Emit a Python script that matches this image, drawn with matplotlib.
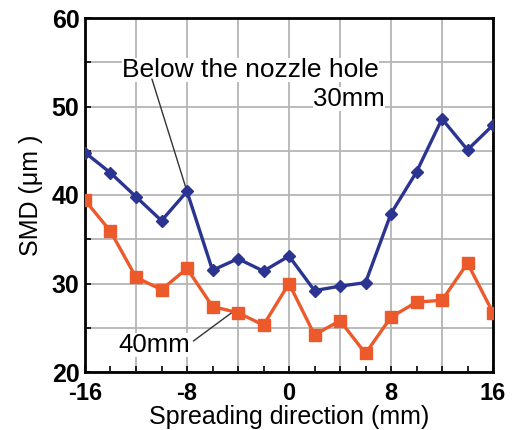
import matplotlib
matplotlib.use("Agg")
import matplotlib.pyplot as plt
from matplotlib.ticker import MultipleLocator, FuncFormatter

plt.rcParams['font.family'] = ['Liberation Sans', 'DejaVu Sans']

# Spreading direction positions (mm)
x = [-16, -14, -12, -10, -8, -6, -4, -2, 0, 2, 4, 6, 8, 10, 12, 14, 16]

# SMD (um) below the nozzle hole
smd_30mm = [44.8, 42.5, 39.8, 37.1, 40.4, 31.5, 32.8, 31.4, 33.1, 29.2,
            29.7, 30.1, 37.9, 42.6, 48.6, 45.1, 47.9]
smd_40mm = [39.4, 35.9, 30.7, 29.3, 31.7, 27.4, 26.7, 25.3, 30.0, 24.2,
            25.8, 22.1, 26.2, 27.9, 28.1, 32.3, 26.7]

fig = plt.figure(figsize=(5.15, 4.3), dpi=100)
ax = fig.add_axes([85 / 515, 1 - 372 / 430, 408 / 515, 354 / 430])

ax.plot(x, smd_30mm, color='#2b3491', marker='D', markersize=6.5, lw=2.4,
        zorder=3)
ax.plot(x, smd_40mm, color='#ec5a2c', marker='s', markersize=9, lw=2.4,
        zorder=3)

ax.set_xlim(-16, 16)
ax.set_ylim(20, 60)
ax.xaxis.set_major_locator(MultipleLocator(4))
ax.xaxis.set_minor_locator(MultipleLocator(2))
ax.yaxis.set_major_locator(MultipleLocator(5))
ax.xaxis.set_major_formatter(FuncFormatter(lambda v, p: f"{v:.0f}" if v % 8 == 0 else ""))
ax.yaxis.set_major_formatter(FuncFormatter(lambda v, p: f"{v:.0f}" if v % 10 == 0 else ""))
ax.tick_params(which='both', direction='in', length=4, width=1.2,
               labelsize=18, top=False, right=False)
ax.tick_params(axis='x', labelsize=17, pad=7)
ax.tick_params(axis='y', pad=4)
for lab in ax.get_xticklabels() + ax.get_yticklabels():
    lab.set_fontweight('bold')
ax.grid(True, which='major', color='#b5b5b5', lw=1.3, zorder=0)
for s in ax.spines.values():
    s.set_linewidth(2)

ax.set_xlabel("Spreading direction (mm)", fontsize=18, labelpad=0)
ax.set_ylabel("SMD (\u03bcm )", fontsize=18, labelpad=6)

# labels and leader lines
box = dict(facecolor='white', edgecolor='none', pad=0)
ax.text(-13.1, 54.1, "Below the nozzle hole", fontsize=19, ha='left',
        va='center', zorder=2, bbox=box)
ax.text(7.5, 50.8, "30mm", fontsize=18.5, ha='right', va='center', zorder=2,
        bbox=box)
ax.annotate("", xy=(-8, 40.4), xytext=(-10.75, 53.1),
            arrowprops=dict(arrowstyle='-', color='#333333', lw=1,
                            shrinkA=0, shrinkB=0), zorder=2.5)
ax.text(-13.4, 23.0, "40mm", fontsize=18.5, ha='left', va='center', zorder=2,
        bbox=box)
ax.annotate("", xy=(-4.4, 26.8), xytext=(-7.5, 23.5),
            arrowprops=dict(arrowstyle='-', color='#333333', lw=1,
                            shrinkA=0, shrinkB=0), zorder=2.5)

plt.savefig("out.png", dpi=100)
